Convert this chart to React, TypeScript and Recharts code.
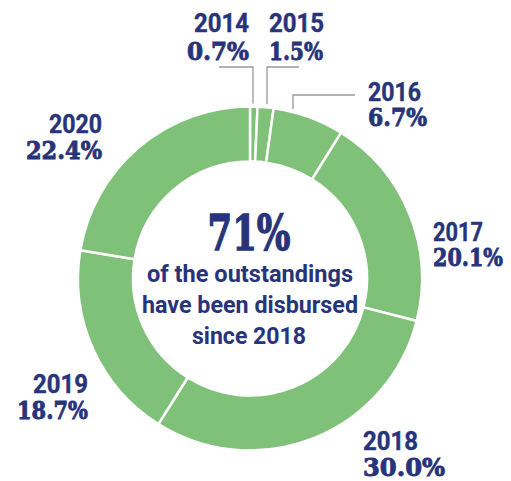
import React from "react";
import { PieChart, Pie, Cell } from "recharts";

const years = ["2014", "2015", "2016", "2017", "2018", "2019", "2020"];
const shares = [0.7, 1.5, 6.7, 20.1, 30.0, 18.7, 22.4];
const shareLabels = ["0.7%", "1.5%", "6.7%", "20.1%", "30.0%", "18.7%", "22.4%"];
const centerHeadline = "71%";
const centerLines = ["of the outstandings", "have been disbursed", "since 2018"];

const data = years.map((y, i) => ({ name: y, value: shares[i], label: shareLabels[i] }));

const NAVY = "#27347a";
const GREEN = "#80c17a";
const LEADER = "#9a9a9a";
const SANS = "Roboto, 'Noto Sans', sans-serif";
const SERIF = "'DejaVu Serif', serif";

type Layout = {
  anchor: "start" | "end";
  x: number;
  yBase: number;
  pBase: number;
  yW: number;
  pW: number;
  leader?: { hx: number; ly: number; vx: number };
};

const layouts: Layout[] = [
  { anchor: "end", x: 249, yBase: 32, pBase: 60, yW: 55, pW: 62, leader: { hx: 219, ly: 67, vx: 253 } },
  { anchor: "start", x: 269, yBase: 32, pBase: 60, yW: 55, pW: 54, leader: { hx: 299, ly: 67, vx: 267 } },
  { anchor: "start", x: 368, yBase: 101, pBase: 126, yW: 53, pW: 59, leader: { hx: 355, ly: 95, vx: 293 } },
  { anchor: "start", x: 433, yBase: 241, pBase: 266, yW: 50, pW: 70 },
  { anchor: "start", x: 363, yBase: 450, pBase: 476, yW: 55, pW: 82 },
  { anchor: "end", x: 88, yBase: 393, pBase: 419, yW: 55, pW: 71 },
  { anchor: "end", x: 102, yBase: 133, pBase: 159, yW: 53, pW: 76 },
];

const renderLabel = (props: any) => {
  const { index, cx, cy, outerRadius, name, payload } = props;
  const L = layouts[index];
  if (!L) return null;
  let line = null;
  if (L.leader) {
    const dx = L.leader.vx - cx;
    const arcY = cy - Math.sqrt(outerRadius * outerRadius - dx * dx);
    line = (
      <polyline
        points={`${L.leader.hx},${L.leader.ly} ${L.leader.vx},${L.leader.ly} ${L.leader.vx},${arcY - 3}`}
        fill="none"
        stroke={LEADER}
        strokeWidth={1.3}
      />
    );
  }
  return (
    <g key={`lbl-${index}`}>
      {line}
      <text
        x={L.x}
        y={L.yBase}
        textAnchor={L.anchor}
        fill={NAVY}
        fontFamily={SANS}
        fontWeight={700}
        fontSize={25}
        textLength={L.yW}
        lengthAdjust="spacingAndGlyphs"
        stroke={NAVY}
        strokeWidth={0.4}
      >
        {name}
      </text>
      <text
        x={L.x}
        y={L.pBase}
        textAnchor={L.anchor}
        fill={NAVY}
        fontFamily={SERIF}
        fontWeight={700}
        fontSize={25}
        textLength={L.pW}
        lengthAdjust="spacingAndGlyphs"
        stroke={NAVY}
        strokeWidth={0.9}
      >
        {payload?.label ?? ""}
      </text>
    </g>
  );
};

export default function App() {
  return (
    <div style={{ position: "absolute", left: 0, top: 0, width: 511, height: 481, background: "#fff" }}>
      <PieChart width={511} height={481} margin={{ top: 0, right: 0, bottom: 0, left: 0 }}>
        <Pie
          data={data}
          dataKey="value"
          nameKey="name"
          cx={250}
          cy={278.5}
          innerRadius={117}
          outerRadius={172}
          startAngle={90}
          endAngle={-270}
          stroke="#ffffff"
          strokeWidth={2.5}
          isAnimationActive={false}
          label={renderLabel}
          labelLine={false}
        >
          {data.map((d) => (
            <Cell key={d.name} fill={GREEN} />
          ))}
        </Pie>
        <text
          x={249}
          y={250}
          textAnchor="middle"
          fill={NAVY}
          fontFamily={SERIF}
          fontWeight={700}
          fontSize={48}
          textLength={83}
          lengthAdjust="spacingAndGlyphs"
          stroke={NAVY}
          strokeWidth={1.4}
        >
          {centerHeadline}
        </text>
        <text x={250} y={282} textAnchor="middle" fill={NAVY} fontFamily={SANS} fontWeight={700} fontSize={23} textLength={206} lengthAdjust="spacingAndGlyphs">
          {centerLines[0]}
        </text>
        <text x={250} y={313} textAnchor="middle" fill={NAVY} fontFamily={SANS} fontWeight={700} fontSize={23} textLength={216} lengthAdjust="spacingAndGlyphs">
          {centerLines[1]}
        </text>
        <text x={249} y={344} textAnchor="middle" fill={NAVY} fontFamily={SANS} fontWeight={700} fontSize={23} textLength={114} lengthAdjust="spacingAndGlyphs">
          {centerLines[2]}
        </text>
      </PieChart>
    </div>
  );
}
